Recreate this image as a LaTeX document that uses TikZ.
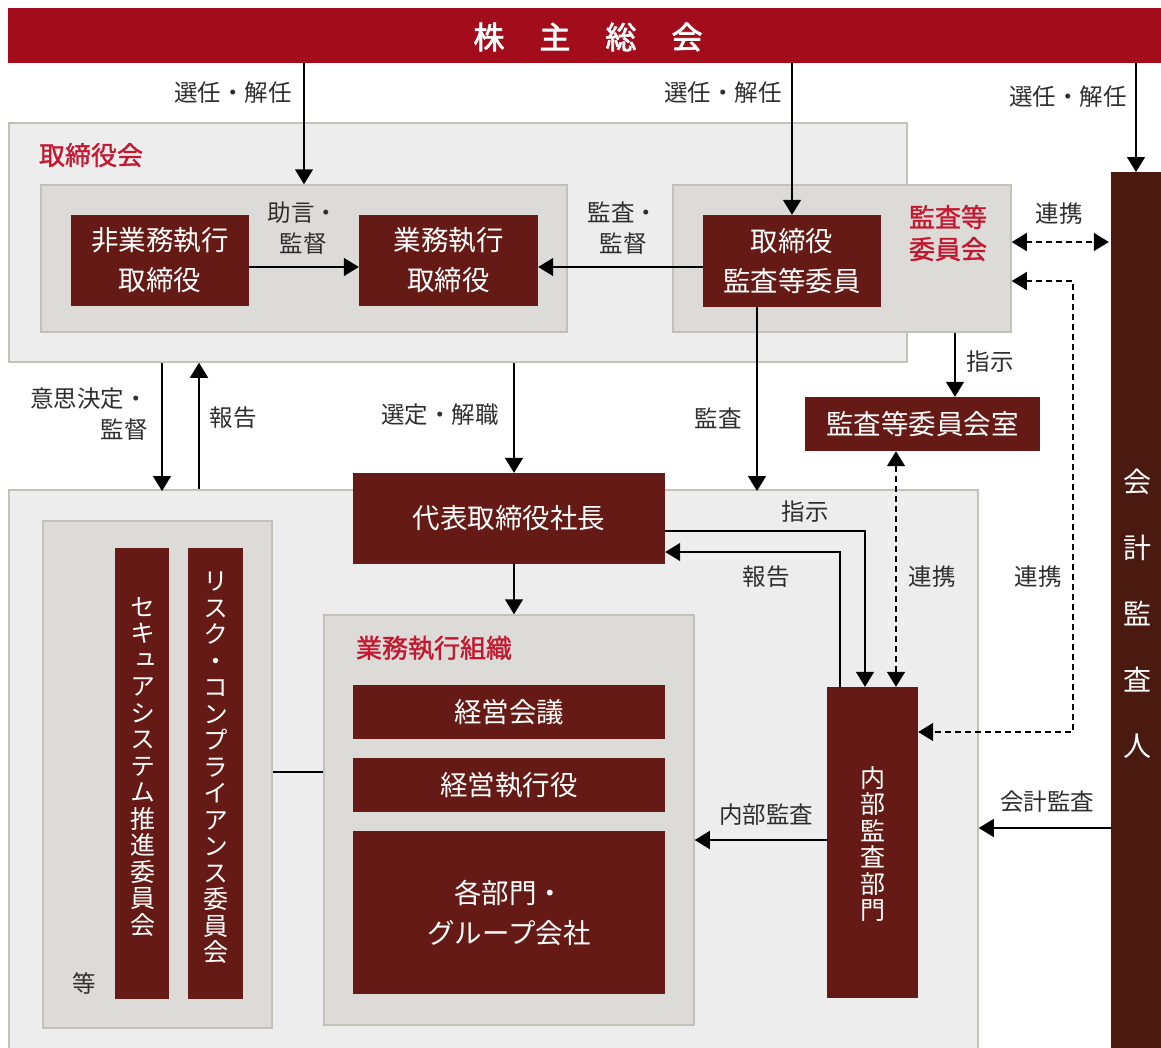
\documentclass[tikz,border=0pt]{standalone}
\usepackage{fontspec}
\setmainfont{Noto Sans CJK JP}
\newfontfamily\vjp[RawFeature=+vert]{Noto Sans CJK JP}
\newfontfamily\jpmed[FakeBold=1.3]{Noto Sans CJK JP}
\newfontfamily\jpsemi[FakeBold=2.2]{Noto Sans CJK JP}
\usetikzlibrary{arrows.meta}
\definecolor{topred}{HTML}{A30C1B}
\definecolor{dred}{HTML}{661A15}
\definecolor{brown}{HTML}{4A190F}
\definecolor{lred}{HTML}{C3182F}
\definecolor{outerfill}{HTML}{EDEDED}
\definecolor{innerfill}{HTML}{DCDBD7}
\definecolor{frame}{HTML}{C2C2BA}
\definecolor{txt}{HTML}{2E2E2E}
\begin{document}
\begin{tikzpicture}[x=1pt,y=-1pt,
  outerbox/.style={draw=frame,line width=1.5pt,fill=outerfill,inner sep=0pt},
  innerbox/.style={draw=frame,line width=1.5pt,fill=innerfill,inner sep=0pt},
  redbox/.style={fill=dred,text=white,inner sep=0pt,align=center,font=\fontsize{27.5}{40}\selectfont},
  lbl/.style={text=txt,inner sep=0pt,align=center,font=\fontsize{23.5}{31}\selectfont},
  redlbl/.style={text=lred,inner sep=0pt,align=center,font=\jpmed\fontsize{26}{32}\selectfont},
  vtext/.style={text=white,inner sep=0pt,align=center,font=\vjp\fontsize{25}{26.5}\selectfont},
  arr/.style={line width=1.5pt,-{Triangle[length=15pt,width=18pt]}},
  darr/.style={line width=1.5pt,dash pattern=on 6pt off 4pt,{Triangle[length=15pt,width=18pt]}-{Triangle[length=15pt,width=18pt]}},
  plain/.style={line width=1.5pt}
]
\useasboundingbox[fill=white] (0,0) rectangle (1161,1047);

% helper coordinates (columns and rows)
\coordinate (c162) at (162,0); \coordinate (c199) at (199,0);
\coordinate (c304) at (304,0); \coordinate (c514) at (514,0);
\coordinate (c757) at (757,0); \coordinate (c840) at (840,0);
\coordinate (c865) at (865,0); \coordinate (c896) at (896,0);
\coordinate (c955) at (955,0); \coordinate (c1073) at (1073,0);
\coordinate (r242) at (0,242); \coordinate (r267) at (0,267);
\coordinate (r281) at (0,281); \coordinate (r531) at (0,531);
\coordinate (r552) at (0,552); \coordinate (r732) at (0,732);
\coordinate (r772) at (0,772); \coordinate (r828) at (0,828);
\coordinate (r840) at (0,840);

% top bar
\node[fill=topred,inner sep=0pt,minimum width=1153pt,minimum height=55pt] (gm) at (584.5,35.5) {};
\node[text=white,inner sep=0pt,font=\jpsemi\fontsize{31}{31}\selectfont] (gmT) at (588,37) {株\hspace{35pt}主\hspace{35pt}総\hspace{35pt}会};

% board of directors
\node[outerbox,minimum width=898pt,minimum height=239pt] (board) at (458,242.5) {};
\node[redlbl] (boardT) at (91,155) {取締役会};
\node[innerbox,minimum width=526pt,minimum height=147pt] (boardin) at (304,258.5) {};
\node[redbox,minimum width=178pt,minimum height=91pt] (nonexec) at (160,260.5) {非業務執行\\取締役};
\node[redbox,minimum width=179pt,minimum height=91pt] (exec) at (448.5,260.5) {業務執行\\取締役};
\node[innerbox,minimum width=338pt,minimum height=147pt] (acbox) at (842,258.5) {};
\node[redbox,minimum width=178pt,minimum height=92pt] (acmem) at (792,261) {取締役\\監査等委員};
\node[redlbl] (acboxT) at (948,233) {監査等\\委員会};

% accounting auditor
\node[fill=brown,inner sep=0pt,minimum width=50pt,minimum height=880pt,anchor=north] (auditor) at (1136,172) {};
\node[text=white,inner sep=0pt,align=center,font=\fontsize{28}{66}\selectfont] (auditorT) at (1137,614) {会\\計\\監\\査\\人};

% audit committee office
\node[redbox,minimum width=235pt,minimum height=54pt] (acoffice) at (922.5,424) {監査等委員会室};

% lower area
\node[outerbox,minimum width=969pt,minimum height=565pt,anchor=north] (lower) at (493.5,489) {};
\node[redbox,minimum width=312pt,minimum height=91pt] (ceo) at (509,518.5) {代表取締役社長};

\node[innerbox,minimum width=229pt,minimum height=507pt] (comm) at (157.5,774.5) {};
\node[fill=dred,inner sep=0pt,minimum width=54pt,minimum height=451pt] (sec) at (142,773.5) {};
\node[fill=dred,inner sep=0pt,minimum width=55pt,minimum height=451pt] (risk) at (215.5,773.5) {};
\node[vtext] (secT) at (142.5,767) {セ\\キ\\ュ\\ア\\シ\\ス\\テ\\ム\\推\\進\\委\\員\\会};
\node[vtext] (riskT) at (216,768) {リ\\ス\\ク\\・\\コ\\ン\\プ\\ラ\\イ\\ア\\ン\\ス\\委\\員\\会};
\node[lbl] (etc) at (84,983) {等};

\node[innerbox,minimum width=370pt,minimum height=410pt] (org) at (509,820) {};
\node[redlbl] (orgT) at (434,648) {業務執行組織};
\node[redbox,minimum width=312pt,minimum height=54pt] (mtg) at (509,712) {経営会議};
\node[redbox,minimum width=312pt,minimum height=54pt] (officer) at (509,785) {経営執行役};
\node[redbox,minimum width=312pt,minimum height=163pt] (dept) at (509,912.5) {各部門・\\グループ会社};

\node[fill=dred,inner sep=0pt,minimum width=91pt,minimum height=311pt] (ia) at (872.5,842.5) {};
\node[vtext] (iaT) at (872.5,844) {内\\部\\監\\査\\部\\門};

% connectors
\draw[arr] (gm.south -| c304) -- (boardin.north -| c304);
\draw[arr] (gm.south -| acmem) -- (acmem.north);
\draw[arr] (gm.south -| auditor) -- (auditor.north);
\draw[arr] (nonexec.east |- r267) -- (exec.west |- r267);
\draw[arr] (acmem.west |- r267) -- (exec.east |- r267);
\draw[darr] (acbox.east |- r242) -- ([xshift=-2pt]auditor.west |- r242);
\draw[darr] (acbox.east |- r281) -- (c1073 |- r281) -- (c1073 |- r732) -- (ia.east |- r732);
\draw[arr] (acbox.south -| c955) -- (acoffice.north -| c955);
\draw[arr] (acmem.south -| c757) -- ([yshift=-2pt]lower.north -| c757);
\draw[arr] (board.south -| c162) -- ([yshift=-2pt]lower.north -| c162);
\draw[arr] (lower.north -| c199) -- (board.south -| c199);
\draw[arr] (board.south -| c514) -- (ceo.north -| c514);
\draw[arr] (ceo.south -| c514) -- (org.north -| c514);
\draw[arr] (ceo.east |- r531) -- (c865 |- r531) -- (ia.north -| c865);
\draw[arr] (ia.north -| c840) -- (c840 |- r552) -- (ceo.east |- r552);
\draw[darr] (acoffice.south -| c896) -- (ia.north -| c896);
\draw[arr] (ia.west |- r840) -- (org.east |- r840);
\draw[arr] (auditor.west |- r828) -- (lower.east |- r828);
\draw[plain] (comm.east |- r772) -- (org.west |- r772);

% connector labels
\node[lbl] (l1) at (233,93) {選任・解任};
\node[lbl] (l2) at (723,93) {選任・解任};
\node[lbl] (l3) at (1068,97) {選任・解任};
\node[lbl] (l4) at (303,228.5) {助言・\\監督};
\node[lbl] (l5) at (623,228.5) {監査・\\監督};
\node[lbl] (l6) at (1059,214) {連携};
\node[lbl] (l7) at (990,362) {指示};
\node[lbl] (l8) at (718,418) {監査};
\node[lbl,align=right,anchor=east] (l9) at (148,414) {意思決定・\\監督};
\node[lbl] (l10) at (233,418) {報告};
\node[lbl] (l11) at (440,415) {選定・解職};
\node[lbl] (l12) at (805,512) {指示};
\node[lbl] (l13) at (766,577) {報告};
\node[lbl] (l14) at (932,577) {連携};
\node[lbl] (l15) at (1038,577) {連携};
\node[lbl] (l16) at (766,815) {内部監査};
\node[lbl] (l17) at (1047,802) {会計監査};
\end{tikzpicture}
\end{document}
